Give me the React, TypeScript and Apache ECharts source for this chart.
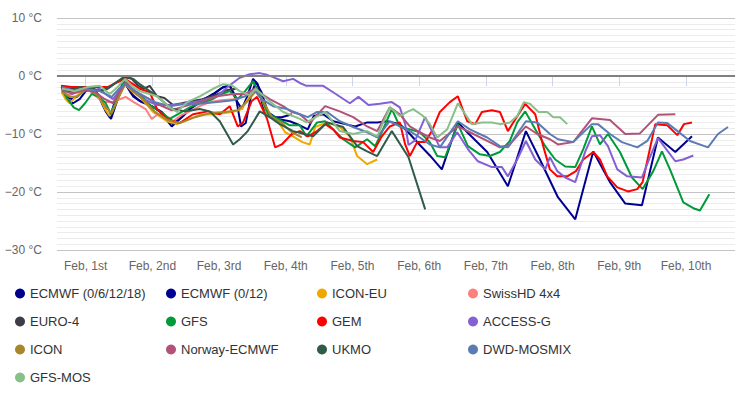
import React, { useEffect, useRef } from "react";
import * as echarts from "echarts";

// x = day of February (1.0 = Feb 1st 00:00), y = temperature in °C
const xTickDays = [1, 2, 3, 4, 5, 6, 7, 8, 9, 10];
const xTickLabels = ["Feb, 1st", "Feb, 2nd", "Feb, 3rd", "Feb, 4th", "Feb, 5th", "Feb, 6th", "Feb, 7th", "Feb, 8th", "Feb, 9th", "Feb, 10th"];
const yTicks = [-30, -20, -10, 0, 10];

const ecmwf061218 = [[0.64,-1.9],[0.72,-4.0],[0.81,-4.7],[0.91,-4.0],[1.00,-2.6],[1.11,-2.2],[1.21,-3.5],[1.30,-6.1],[1.38,-7.4],[1.48,-4.0],[1.59,-1.2],[1.71,-3.5],[1.84,-4.5],[1.99,-5.2],[2.14,-6.2],[2.31,-8.3],[2.44,-7.1],[2.60,-5.4],[2.75,-4.2],[2.91,-3.1],[3.06,-1.9],[3.16,-1.7],[3.25,-4.0],[3.34,-5.7],[3.42,-3.6],[3.51,-0.5],[3.58,-1.4],[3.66,-5.4],[3.76,-7.1],[3.94,-7.1],[4.09,-6.6]];
const ecmwf012 = [[0.64,-1.6],[0.70,-3.5],[0.79,-4.0],[0.88,-3.5],[0.99,-2.2],[1.09,-2.1],[1.18,-3.1],[1.27,-5.4],[1.36,-7.1],[1.45,-4.0],[1.57,-0.9],[1.69,-3.1],[1.81,-4.3],[1.96,-5.0],[2.11,-6.1],[2.29,-8.7],[2.41,-7.4],[2.56,-5.7],[2.71,-4.3],[2.90,-3.3],[3.04,-2.1],[3.16,-1.6],[3.25,-3.6],[3.33,-8.7],[3.40,-8.1],[3.48,-3.3],[3.55,-1.0],[3.64,-2.9],[3.73,-6.2],[3.88,-7.4],[4.06,-7.8],[4.21,-8.5],[4.33,-9.2],[4.42,-6.9],[4.56,-6.6],[4.71,-7.8],[4.89,-8.3],[5.04,-8.7],[5.22,-8.0],[5.37,-8.0],[5.52,-7.8],[5.71,-8.3],[5.86,-10.0],[6.01,-11.9],[6.16,-13.7],[6.34,-16.1],[6.58,-8.0],[6.72,-9.7],[7.02,-13.1],[7.33,-19.0],[7.60,-9.5],[7.81,-14.4],[8.08,-20.9],[8.34,-24.7],[8.61,-13.0],[8.86,-18.3],[9.09,-22.0],[9.34,-22.3],[9.58,-10.6],[9.84,-13.1],[10.09,-10.4]];
const iconEu = [[0.64,-2.8],[0.70,-4.0],[0.76,-4.7],[0.85,-3.6],[0.94,-2.6],[1.06,-2.2],[1.18,-3.1],[1.29,-5.7],[1.36,-6.9],[1.48,-4.0],[1.59,-1.4],[1.69,-2.6],[1.81,-3.6],[2.01,-6.2],[2.22,-7.8],[2.37,-8.3],[2.56,-7.4],[2.71,-6.7],[2.91,-6.6],[3.09,-6.4],[3.24,-6.1],[3.34,-5.7],[3.43,-4.0],[3.54,-2.4],[3.64,-4.0],[3.73,-6.9],[3.87,-7.6],[3.99,-9.7],[4.11,-10.4],[4.25,-11.4],[4.36,-11.8],[4.44,-8.8],[4.62,-8.0],[4.81,-8.8],[4.96,-10.4],[5.07,-13.8],[5.22,-15.2],[5.37,-14.4]];
const swissHd = [[0.64,-2.8],[0.76,-3.3],[0.91,-2.6],[1.03,-2.2],[1.15,-3.5],[1.27,-4.5],[1.39,-4.5],[1.51,-4.0],[1.60,-3.6],[1.72,-4.5],[1.90,-5.7],[1.99,-7.4],[2.08,-6.6],[2.19,-6.9],[2.31,-7.8],[2.44,-6.7],[2.56,-6.1],[2.71,-5.2],[2.86,-4.5],[3.04,-4.2],[3.21,-4.0],[3.34,-3.6]];
const euro4 = [[0.64,-1.9],[0.79,-2.2],[0.94,-1.9],[1.09,-2.1],[1.21,-2.6],[1.33,-2.2],[1.45,-1.2],[1.59,-0.2],[1.69,-0.5],[1.78,-1.6],[1.87,-2.2],[1.96,-1.7],[2.07,-3.5],[2.18,-3.8],[2.31,-5.0],[2.44,-4.7],[2.60,-4.3],[2.75,-4.0],[2.94,-3.3],[3.13,-2.4],[3.25,-2.2]];
const gfs = [[0.64,-2.2],[0.73,-4.0],[0.82,-5.4],[0.90,-5.9],[0.99,-4.7],[1.09,-3.1],[1.21,-3.6],[1.30,-4.7],[1.38,-6.6],[1.48,-3.6],[1.59,-0.5],[1.71,-2.6],[1.83,-3.3],[1.96,-5.0],[2.11,-6.1],[2.26,-7.4],[2.41,-6.4],[2.56,-5.4],[2.71,-4.7],[2.90,-4.0],[3.04,-3.1],[3.16,-2.6],[3.28,-4.0],[3.39,-2.6],[3.51,-0.9],[3.61,-3.1],[3.73,-6.4],[3.88,-7.4],[4.06,-8.5],[4.21,-8.5],[4.31,-10.4],[4.47,-8.0],[4.59,-7.8],[4.71,-9.2],[4.86,-10.9],[5.04,-12.3],[5.22,-10.9],[5.34,-12.1],[5.44,-9.7],[5.59,-5.7],[5.71,-8.7],[5.86,-9.2],[6.01,-9.7],[6.16,-11.4],[6.27,-13.8],[6.39,-14.0],[6.58,-8.3],[6.73,-12.1],[6.91,-13.5],[7.06,-13.8],[7.21,-13.1],[7.36,-11.2],[7.47,-8.0],[7.59,-6.1],[7.74,-9.2],[7.89,-12.1],[8.04,-14.4],[8.19,-15.6],[8.34,-15.7],[8.46,-12.6],[8.59,-8.7],[8.71,-11.8],[8.83,-10.0],[9.01,-13.1],[9.19,-17.5],[9.35,-19.5],[9.51,-16.4],[9.64,-13.0],[9.76,-16.1],[9.96,-21.8],[10.11,-22.8],[10.21,-23.2],[10.35,-20.4]];
const gem = [[0.64,-1.7],[0.79,-1.9],[0.99,-1.9],[1.21,-1.9],[1.33,-1.9],[1.45,-1.2],[1.59,-0.5],[1.71,-1.4],[1.81,-2.2],[1.96,-2.8],[2.07,-5.7],[2.22,-7.4],[2.41,-8.1],[2.61,-6.6],[2.83,-6.1],[3.01,-6.6],[3.16,-5.2],[3.28,-8.7],[3.36,-8.0],[3.49,-4.3],[3.57,-3.6],[3.72,-7.4],[3.84,-12.3],[3.94,-11.8],[4.09,-10.0],[4.21,-9.5],[4.33,-10.4],[4.47,-9.5],[4.59,-8.3],[4.71,-9.2],[4.81,-10.6],[5.01,-11.2],[5.16,-11.4],[5.31,-13.1],[5.44,-10.4],[5.56,-8.7],[5.71,-8.0],[5.79,-11.8],[5.86,-13.8],[5.97,-11.4],[6.09,-11.4],[6.19,-9.5],[6.31,-6.2],[6.46,-4.5],[6.58,-3.5],[6.72,-7.8],[6.84,-8.3],[6.94,-6.2],[7.09,-5.9],[7.21,-6.2],[7.33,-9.5],[7.51,-6.2],[7.59,-4.8],[7.74,-6.6],[7.86,-12.1],[7.96,-16.1],[8.07,-17.3],[8.22,-17.3],[8.35,-16.4],[8.46,-14.4],[8.61,-13.1],[8.71,-14.4],[8.82,-17.3],[8.97,-19.2],[9.13,-19.9],[9.27,-19.5],[9.35,-18.3],[9.54,-8.3],[9.72,-8.5],[9.87,-10.2],[9.97,-8.3],[10.09,-8.0]];
const accessG = [[0.64,-2.2],[0.79,-3.1],[0.96,-2.2],[1.09,-2.6],[1.21,-2.2],[1.32,-3.3],[1.41,-4.0],[1.50,-2.6],[1.59,-1.4],[1.71,-2.6],[1.86,-4.0],[2.07,-5.0],[2.29,-5.0],[2.52,-4.7],[2.71,-4.3],[2.97,-3.5],[3.16,-1.6],[3.31,-0.3],[3.46,0.3],[3.61,0.5],[3.72,0.2],[3.81,-0.2],[3.96,-0.9],[4.11,-0.5],[4.21,-1.2],[4.31,-1.7],[4.56,-1.7],[4.71,-2.8],[4.96,-4.7],[5.09,-3.6],[5.24,-5.0],[5.41,-4.8],[5.59,-4.5],[5.71,-5.4],[5.79,-8.3],[5.84,-11.9],[5.94,-11.1],[6.09,-7.1],[6.19,-9.5],[6.31,-12.3],[6.42,-12.3],[6.57,-9.7],[6.73,-12.6],[6.88,-14.7],[7.09,-15.7],[7.24,-15.7],[7.33,-17.3],[7.47,-14.4],[7.60,-11.2],[7.74,-14.4],[7.89,-16.1],[7.96,-14.0],[8.07,-16.4],[8.19,-17.5],[8.34,-18.3],[8.49,-13.0],[8.59,-10.4],[8.71,-10.2],[8.83,-12.1],[8.97,-16.1],[9.12,-17.3],[9.34,-17.5],[9.46,-14.0],[9.58,-10.7],[9.84,-14.7],[9.96,-14.4],[10.11,-13.7]];
const icon = [[0.64,-2.6],[0.76,-3.6],[0.88,-3.5],[1.03,-2.2],[1.18,-3.3],[1.30,-5.4],[1.39,-6.4],[1.51,-3.3],[1.60,-1.2],[1.72,-2.6],[1.84,-3.8],[2.04,-6.2],[2.23,-7.6],[2.41,-8.1],[2.64,-7.1],[2.86,-6.4],[3.09,-6.2],[3.28,-5.9],[3.43,-4.3],[3.55,-2.6],[3.67,-4.5],[3.79,-7.1],[3.94,-8.1],[4.09,-9.7],[4.24,-10.6]];
const norwayEcmwf = [[0.64,-2.6],[0.84,-2.9],[0.99,-2.4],[1.14,-2.8],[1.29,-4.0],[1.41,-4.7],[1.51,-2.6],[1.60,-1.2],[1.74,-2.6],[1.89,-3.6],[2.11,-5.0],[2.29,-5.9],[2.49,-5.2],[2.71,-4.5],[2.97,-3.5],[3.21,-3.1],[3.39,-3.1],[3.54,-2.2],[3.64,-3.1],[3.76,-4.0],[3.96,-5.2],[4.09,-6.2],[4.21,-6.6],[4.36,-8.1],[4.59,-5.2],[4.81,-6.1],[5.01,-7.1],[5.22,-8.7],[5.37,-9.5],[5.56,-5.4],[5.71,-6.6],[5.86,-8.7],[6.01,-9.7],[6.16,-10.6],[6.31,-11.2],[6.58,-8.7],[6.76,-9.7],[7.02,-11.2],[7.21,-12.3],[7.36,-11.8],[7.60,-8.7],[7.77,-10.0],[7.96,-10.9],[8.08,-11.8],[8.31,-11.4],[8.59,-7.3],[8.86,-7.6],[9.09,-10.0],[9.31,-9.9],[9.58,-6.7],[9.84,-6.6]];
const ukmo = [[0.64,-2.2],[0.76,-2.6],[0.91,-1.9],[1.09,-2.2],[1.21,-2.6],[1.36,-1.9],[1.48,-0.9],[1.59,0.0],[1.71,-0.5],[1.81,-1.4],[1.96,-2.6],[2.07,-3.5],[2.19,-4.7],[2.31,-5.7],[2.49,-6.1],[2.71,-5.7],[2.86,-6.1],[3.01,-7.8],[3.21,-11.8],[3.31,-10.9],[3.43,-9.5],[3.61,-6.1],[3.76,-7.1],[3.91,-8.3],[4.11,-9.5],[4.25,-9.9],[4.41,-10.4],[4.62,-8.0],[4.86,-8.8],[5.07,-12.1],[5.22,-13.0],[5.37,-13.8],[5.59,-9.5],[5.84,-14.0],[6.09,-23.0]];
const dwdMosmix = [[0.64,-1.9],[0.84,-2.6],[0.99,-2.2],[1.21,-2.6],[1.39,-3.6],[1.50,-2.2],[1.59,-1.4],[1.81,-3.1],[2.04,-4.5],[2.26,-5.2],[2.49,-4.8],[2.71,-4.8],[2.97,-4.5],[3.21,-4.2],[3.39,-3.5],[3.54,-2.6],[3.64,-4.0],[3.81,-5.2],[4.02,-5.7],[4.21,-6.6],[4.33,-7.1],[4.47,-6.2],[4.62,-6.2],[4.81,-7.8],[5.01,-8.8],[5.22,-9.7],[5.37,-10.6],[5.56,-7.8],[5.71,-8.7],[5.86,-9.5],[6.01,-10.6],[6.16,-11.8],[6.31,-12.3],[6.58,-7.8],[6.76,-9.2],[7.02,-10.6],[7.21,-12.1],[7.33,-12.3],[7.60,-7.8],[7.77,-8.0],[7.96,-10.0],[8.08,-10.9],[8.31,-11.4],[8.59,-8.3],[8.68,-8.3],[8.86,-10.0],[9.04,-11.4],[9.27,-12.3],[9.42,-11.2],[9.58,-8.0],[9.72,-8.1],[9.84,-9.2],[10.06,-11.2],[10.33,-12.3],[10.48,-10.0],[10.63,-8.8]];
const gfsMos = [[0.64,-2.2],[0.84,-2.6],[1.03,-1.9],[1.21,-1.7],[1.36,-3.1],[1.48,-1.9],[1.59,-0.5],[1.71,-1.9],[1.81,-2.6],[2.07,-3.5],[2.26,-5.4],[2.37,-6.2],[2.52,-4.5],[2.71,-3.5],[2.91,-2.2],[3.06,-1.4],[3.19,-1.6],[3.31,-2.6],[3.46,-3.3],[3.55,-2.2],[3.72,-4.0],[3.96,-6.2],[4.21,-7.4],[4.31,-8.0],[4.59,-6.2],[4.81,-9.5],[5.01,-10.0],[5.22,-9.5],[5.37,-10.4],[5.56,-5.4],[5.71,-6.9],[5.82,-6.2],[5.91,-5.7],[6.06,-6.9],[6.16,-8.3],[6.27,-10.6],[6.42,-9.2],[6.58,-4.7],[6.79,-8.3],[6.94,-8.0],[7.09,-8.0],[7.21,-8.3],[7.36,-8.0],[7.47,-6.9],[7.57,-4.5],[7.66,-4.8],[7.79,-6.2],[7.92,-6.2],[8.01,-7.1],[8.11,-7.1],[8.22,-8.3]];

const seriesNames = ["ECMWF (0/6/12/18)", "ECMWF (0/12)", "ICON-EU", "SwissHD 4x4", "EURO-4", "GFS", "GEM", "ACCESS-G", "ICON", "Norway-ECMWF", "UKMO", "DWD-MOSMIX", "GFS-MOS"];
const seriesData = [ecmwf061218, ecmwf012, iconEu, swissHd, euro4, gfs, gem, accessG, icon, norwayEcmwf, ukmo, dwdMosmix, gfsMos];
const seriesColors = ["#00008b", "#000090", "#eea800", "#ff7f7f", "#3d3d45", "#009a3a", "#ff0000", "#8460d4", "#a8862c", "#b25278", "#2f5b4a", "#5b7bb5", "#89bf89"];

export default function App() {
  const ref = useRef<HTMLDivElement>(null);
  useEffect(() => {
    if (!ref.current) return;
    const chart = echarts.init(ref.current, undefined, { renderer: "svg" });
    const font = "'Liberation Sans', Arial, sans-serif";
    const series: any[] = seriesNames.map((name, i) => ({
      name,
      type: "line",
      data: seriesData[i],
      showSymbol: false,
      symbol: "circle",
      lineStyle: { width: 2, color: seriesColors[i] },
      itemStyle: { color: seriesColors[i] },
      z: 3,
      silent: true,
    }));
    series.unshift({
      name: "zero",
      type: "line",
      data: [],
      z: 1,
      silent: true,
      markLine: {
        silent: true,
        symbol: "none",
        label: { show: false },
        lineStyle: { color: "#808080", width: 2, type: "solid" },
        data: [{ yAxis: 0 }],
      },
    });
    chart.setOption({
      animation: false,
      grid: { left: 57, right: 9, top: 18, bottom: 144, containLabel: false },
      legend: {
        data: seriesNames,
        left: 10,
        top: 282,
        width: 610,
        icon: "circle",
        itemWidth: 10,
        itemHeight: 10,
        itemGap: 15,
        textStyle: { fontFamily: font, fontSize: 13, color: "#333333", width: 121, lineHeight: 12, overflow: "truncate" },
      },
      xAxis: {
        type: "value",
        min: 0.57,
        max: 10.735,
        axisLine: { show: true, lineStyle: { color: "#ccd6eb", width: 1 } },
        axisTick: { show: true, customValues: xTickDays, length: 10, lineStyle: { color: "#ccd6eb" } },
        axisLabel: {
          customValues: xTickDays,
          margin: 10,
          fontFamily: font,
          fontSize: 12,
          color: "#666666",
          formatter: (v: number) => {
            const i = xTickDays.indexOf(Math.round(v));
            return i >= 0 ? xTickLabels[i] : "";
          },
        },
        splitLine: { show: false },
      },
      yAxis: {
        type: "value",
        min: yTicks[0],
        max: yTicks[yTicks.length - 1],
        interval: 10,
        axisLine: { show: false },
        axisTick: { show: false },
        axisLabel: {
          margin: 15,
          fontFamily: font,
          fontSize: 12,
          color: "#666666",
          formatter: (v: number) => (v < 0 ? "\u2212" + Math.abs(v) : String(v)) + " °C",
        },
        splitLine: { show: true, lineStyle: { color: "#c4c4c4", width: 1 } },
        minorTick: { show: true, splitNumber: 10, length: 0, lineStyle: { color: "transparent" } },
        minorSplitLine: { show: true, lineStyle: { color: "#ececec", width: 1 } },
      },
      series,
    });
    return () => chart.dispose();
  }, []);
  return <div ref={ref} style={{ width: 744, height: 394, position: "absolute", left: 0, top: 0 }} />;
}
